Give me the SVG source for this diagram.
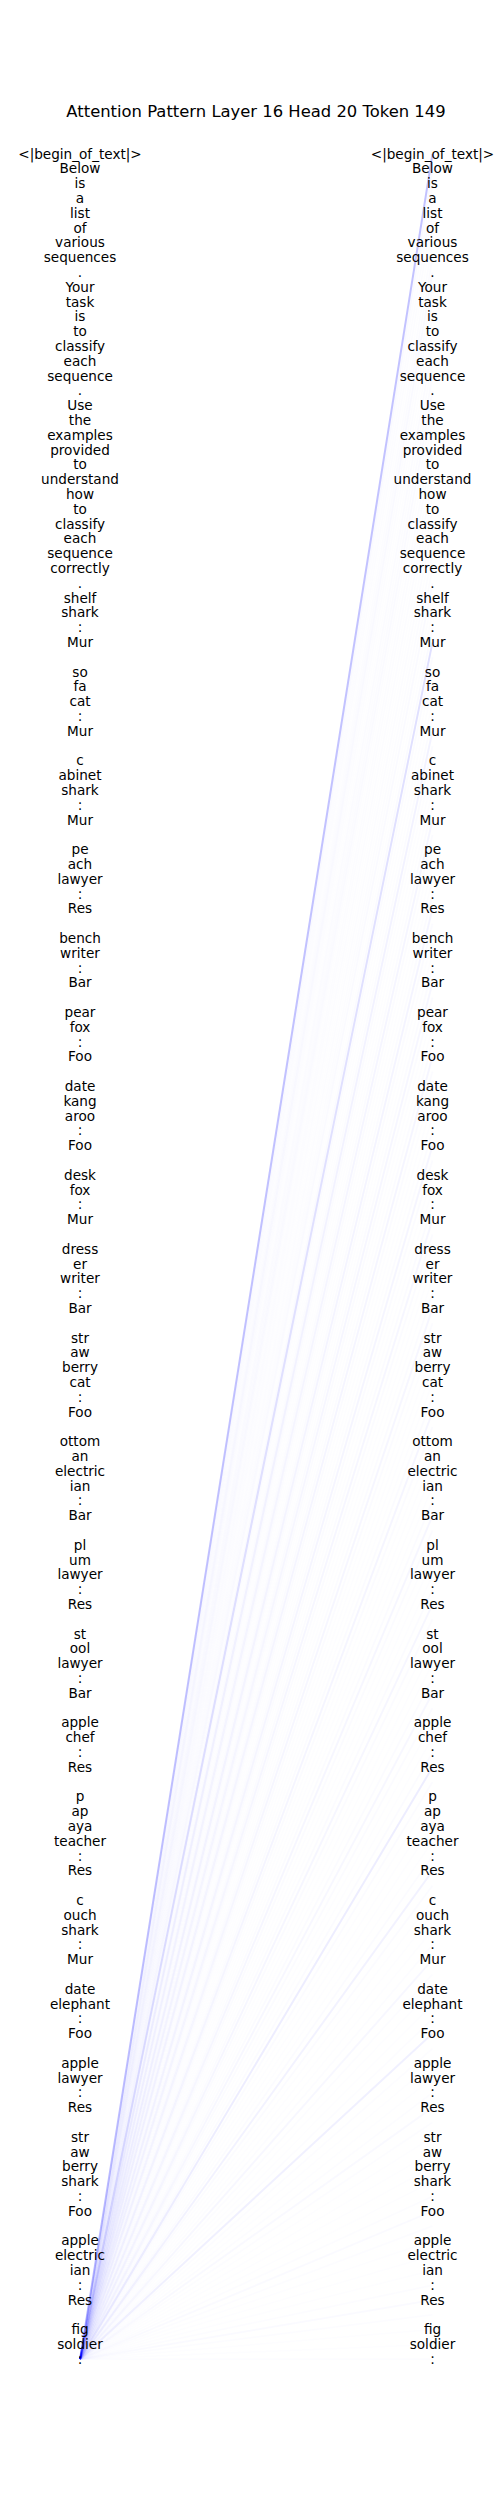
<svg xmlns="http://www.w3.org/2000/svg" width="500" height="2500" viewBox="0 0 500 2500">
<style>
text{font-family:"DejaVu Sans","Liberation Sans",sans-serif;fill:#000;text-anchor:middle}
.t{font-size:13.6px}
.title{font-size:16.4px}
#connectors line{stroke:#0000ff;stroke-width:2;stroke-linecap:butt}
</style>
<rect width="500" height="2500" fill="#fff"/>
<g id="connectors">
<line x1="80" y1="2359.2" x2="432.5" y2="154" stroke-opacity="0.24"/>
<line x1="80" y1="2359.2" x2="432.5" y2="168.8" stroke-opacity="0.025"/>
<line x1="80" y1="2359.2" x2="432.5" y2="183.6" stroke-opacity="0.01"/>
<line x1="80" y1="2359.2" x2="432.5" y2="198.4" stroke-opacity="0.01"/>
<line x1="80" y1="2359.2" x2="432.5" y2="213.2" stroke-opacity="0.01"/>
<line x1="80" y1="2359.2" x2="432.5" y2="228" stroke-opacity="0.008"/>
<line x1="80" y1="2359.2" x2="432.5" y2="242.8" stroke-opacity="0.01"/>
<line x1="80" y1="2359.2" x2="432.5" y2="257.6" stroke-opacity="0.015"/>
<line x1="80" y1="2359.2" x2="432.5" y2="272.4" stroke-opacity="0.025"/>
<line x1="80" y1="2359.2" x2="432.5" y2="287.2" stroke-opacity="0.01"/>
<line x1="80" y1="2359.2" x2="432.5" y2="302" stroke-opacity="0.01"/>
<line x1="80" y1="2359.2" x2="432.5" y2="316.8" stroke-opacity="0.008"/>
<line x1="80" y1="2359.2" x2="432.5" y2="331.6" stroke-opacity="0.008"/>
<line x1="80" y1="2359.2" x2="432.5" y2="346.4" stroke-opacity="0.015"/>
<line x1="80" y1="2359.2" x2="432.5" y2="361.2" stroke-opacity="0.01"/>
<line x1="80" y1="2359.2" x2="432.5" y2="376" stroke-opacity="0.015"/>
<line x1="80" y1="2359.2" x2="432.5" y2="390.8" stroke-opacity="0.02"/>
<line x1="80" y1="2359.2" x2="432.5" y2="405.6" stroke-opacity="0.01"/>
<line x1="80" y1="2359.2" x2="432.5" y2="420.4" stroke-opacity="0.008"/>
<line x1="80" y1="2359.2" x2="432.5" y2="435.2" stroke-opacity="0.01"/>
<line x1="80" y1="2359.2" x2="432.5" y2="450" stroke-opacity="0.01"/>
<line x1="80" y1="2359.2" x2="432.5" y2="464.8" stroke-opacity="0.008"/>
<line x1="80" y1="2359.2" x2="432.5" y2="479.6" stroke-opacity="0.01"/>
<line x1="80" y1="2359.2" x2="432.5" y2="494.4" stroke-opacity="0.008"/>
<line x1="80" y1="2359.2" x2="432.5" y2="509.2" stroke-opacity="0.008"/>
<line x1="80" y1="2359.2" x2="432.5" y2="524" stroke-opacity="0.01"/>
<line x1="80" y1="2359.2" x2="432.5" y2="538.8" stroke-opacity="0.008"/>
<line x1="80" y1="2359.2" x2="432.5" y2="553.6" stroke-opacity="0.01"/>
<line x1="80" y1="2359.2" x2="432.5" y2="568.4" stroke-opacity="0.01"/>
<line x1="80" y1="2359.2" x2="432.5" y2="583.2" stroke-opacity="0.02"/>
<line x1="80" y1="2359.2" x2="432.5" y2="598" stroke-opacity="0.006"/>
<line x1="80" y1="2359.2" x2="432.5" y2="612.8" stroke-opacity="0.006"/>
<line x1="80" y1="2359.2" x2="432.5" y2="627.6" stroke-opacity="0.02"/>
<line x1="80" y1="2359.2" x2="432.5" y2="642.4" stroke-opacity="0.12"/>
<line x1="80" y1="2359.2" x2="432.5" y2="657.2" stroke-opacity="0.015"/>
<line x1="80" y1="2359.2" x2="432.5" y2="672" stroke-opacity="0.006"/>
<line x1="80" y1="2359.2" x2="432.5" y2="686.8" stroke-opacity="0.006"/>
<line x1="80" y1="2359.2" x2="432.5" y2="701.6" stroke-opacity="0.006"/>
<line x1="80" y1="2359.2" x2="432.5" y2="716.4" stroke-opacity="0.015"/>
<line x1="80" y1="2359.2" x2="432.5" y2="731.2" stroke-opacity="0.05"/>
<line x1="80" y1="2359.2" x2="432.5" y2="746" stroke-opacity="0.015"/>
<line x1="80" y1="2359.2" x2="432.5" y2="760.8" stroke-opacity="0.006"/>
<line x1="80" y1="2359.2" x2="432.5" y2="775.6" stroke-opacity="0.006"/>
<line x1="80" y1="2359.2" x2="432.5" y2="790.4" stroke-opacity="0.006"/>
<line x1="80" y1="2359.2" x2="432.5" y2="805.2" stroke-opacity="0.015"/>
<line x1="80" y1="2359.2" x2="432.5" y2="820" stroke-opacity="0.04"/>
<line x1="80" y1="2359.2" x2="432.5" y2="834.8" stroke-opacity="0.015"/>
<line x1="80" y1="2359.2" x2="432.5" y2="849.6" stroke-opacity="0.006"/>
<line x1="80" y1="2359.2" x2="432.5" y2="864.4" stroke-opacity="0.006"/>
<line x1="80" y1="2359.2" x2="432.5" y2="879.2" stroke-opacity="0.006"/>
<line x1="80" y1="2359.2" x2="432.5" y2="894" stroke-opacity="0.015"/>
<line x1="80" y1="2359.2" x2="432.5" y2="908.8" stroke-opacity="0.045"/>
<line x1="80" y1="2359.2" x2="432.5" y2="923.6" stroke-opacity="0.015"/>
<line x1="80" y1="2359.2" x2="432.5" y2="938.4" stroke-opacity="0.006"/>
<line x1="80" y1="2359.2" x2="432.5" y2="953.2" stroke-opacity="0.006"/>
<line x1="80" y1="2359.2" x2="432.5" y2="968" stroke-opacity="0.015"/>
<line x1="80" y1="2359.2" x2="432.5" y2="982.8" stroke-opacity="0.035"/>
<line x1="80" y1="2359.2" x2="432.5" y2="997.6" stroke-opacity="0.015"/>
<line x1="80" y1="2359.2" x2="432.5" y2="1012.4" stroke-opacity="0.006"/>
<line x1="80" y1="2359.2" x2="432.5" y2="1027.2" stroke-opacity="0.006"/>
<line x1="80" y1="2359.2" x2="432.5" y2="1042" stroke-opacity="0.015"/>
<line x1="80" y1="2359.2" x2="432.5" y2="1056.8" stroke-opacity="0.04"/>
<line x1="80" y1="2359.2" x2="432.5" y2="1071.6" stroke-opacity="0.015"/>
<line x1="80" y1="2359.2" x2="432.5" y2="1086.4" stroke-opacity="0.006"/>
<line x1="80" y1="2359.2" x2="432.5" y2="1101.2" stroke-opacity="0.006"/>
<line x1="80" y1="2359.2" x2="432.5" y2="1116" stroke-opacity="0.006"/>
<line x1="80" y1="2359.2" x2="432.5" y2="1130.8" stroke-opacity="0.015"/>
<line x1="80" y1="2359.2" x2="432.5" y2="1145.6" stroke-opacity="0.04"/>
<line x1="80" y1="2359.2" x2="432.5" y2="1160.4" stroke-opacity="0.015"/>
<line x1="80" y1="2359.2" x2="432.5" y2="1175.2" stroke-opacity="0.006"/>
<line x1="80" y1="2359.2" x2="432.5" y2="1190" stroke-opacity="0.006"/>
<line x1="80" y1="2359.2" x2="432.5" y2="1204.8" stroke-opacity="0.015"/>
<line x1="80" y1="2359.2" x2="432.5" y2="1219.6" stroke-opacity="0.035"/>
<line x1="80" y1="2359.2" x2="432.5" y2="1234.4" stroke-opacity="0.015"/>
<line x1="80" y1="2359.2" x2="432.5" y2="1249.2" stroke-opacity="0.006"/>
<line x1="80" y1="2359.2" x2="432.5" y2="1264" stroke-opacity="0.006"/>
<line x1="80" y1="2359.2" x2="432.5" y2="1278.8" stroke-opacity="0.006"/>
<line x1="80" y1="2359.2" x2="432.5" y2="1293.6" stroke-opacity="0.015"/>
<line x1="80" y1="2359.2" x2="432.5" y2="1308.4" stroke-opacity="0.035"/>
<line x1="80" y1="2359.2" x2="432.5" y2="1323.2" stroke-opacity="0.015"/>
<line x1="80" y1="2359.2" x2="432.5" y2="1338" stroke-opacity="0.006"/>
<line x1="80" y1="2359.2" x2="432.5" y2="1352.8" stroke-opacity="0.006"/>
<line x1="80" y1="2359.2" x2="432.5" y2="1367.6" stroke-opacity="0.006"/>
<line x1="80" y1="2359.2" x2="432.5" y2="1382.4" stroke-opacity="0.006"/>
<line x1="80" y1="2359.2" x2="432.5" y2="1397.2" stroke-opacity="0.015"/>
<line x1="80" y1="2359.2" x2="432.5" y2="1412" stroke-opacity="0.04"/>
<line x1="80" y1="2359.2" x2="432.5" y2="1426.8" stroke-opacity="0.015"/>
<line x1="80" y1="2359.2" x2="432.5" y2="1441.6" stroke-opacity="0.006"/>
<line x1="80" y1="2359.2" x2="432.5" y2="1456.4" stroke-opacity="0.006"/>
<line x1="80" y1="2359.2" x2="432.5" y2="1471.2" stroke-opacity="0.006"/>
<line x1="80" y1="2359.2" x2="432.5" y2="1486" stroke-opacity="0.006"/>
<line x1="80" y1="2359.2" x2="432.5" y2="1500.8" stroke-opacity="0.015"/>
<line x1="80" y1="2359.2" x2="432.5" y2="1515.6" stroke-opacity="0.035"/>
<line x1="80" y1="2359.2" x2="432.5" y2="1530.4" stroke-opacity="0.015"/>
<line x1="80" y1="2359.2" x2="432.5" y2="1545.2" stroke-opacity="0.006"/>
<line x1="80" y1="2359.2" x2="432.5" y2="1560" stroke-opacity="0.006"/>
<line x1="80" y1="2359.2" x2="432.5" y2="1574.8" stroke-opacity="0.006"/>
<line x1="80" y1="2359.2" x2="432.5" y2="1589.6" stroke-opacity="0.015"/>
<line x1="80" y1="2359.2" x2="432.5" y2="1604.4" stroke-opacity="0.035"/>
<line x1="80" y1="2359.2" x2="432.5" y2="1619.2" stroke-opacity="0.015"/>
<line x1="80" y1="2359.2" x2="432.5" y2="1634" stroke-opacity="0.006"/>
<line x1="80" y1="2359.2" x2="432.5" y2="1648.8" stroke-opacity="0.006"/>
<line x1="80" y1="2359.2" x2="432.5" y2="1663.6" stroke-opacity="0.006"/>
<line x1="80" y1="2359.2" x2="432.5" y2="1678.4" stroke-opacity="0.015"/>
<line x1="80" y1="2359.2" x2="432.5" y2="1693.2" stroke-opacity="0.03"/>
<line x1="80" y1="2359.2" x2="432.5" y2="1708" stroke-opacity="0.015"/>
<line x1="80" y1="2359.2" x2="432.5" y2="1722.8" stroke-opacity="0.006"/>
<line x1="80" y1="2359.2" x2="432.5" y2="1737.6" stroke-opacity="0.006"/>
<line x1="80" y1="2359.2" x2="432.5" y2="1752.4" stroke-opacity="0.015"/>
<line x1="80" y1="2359.2" x2="432.5" y2="1767.2" stroke-opacity="0.07"/>
<line x1="80" y1="2359.2" x2="432.5" y2="1782" stroke-opacity="0.015"/>
<line x1="80" y1="2359.2" x2="432.5" y2="1796.8" stroke-opacity="0.006"/>
<line x1="80" y1="2359.2" x2="432.5" y2="1811.6" stroke-opacity="0.006"/>
<line x1="80" y1="2359.2" x2="432.5" y2="1826.4" stroke-opacity="0.006"/>
<line x1="80" y1="2359.2" x2="432.5" y2="1841.2" stroke-opacity="0.006"/>
<line x1="80" y1="2359.2" x2="432.5" y2="1856" stroke-opacity="0.015"/>
<line x1="80" y1="2359.2" x2="432.5" y2="1870.8" stroke-opacity="0.05"/>
<line x1="80" y1="2359.2" x2="432.5" y2="1885.6" stroke-opacity="0.015"/>
<line x1="80" y1="2359.2" x2="432.5" y2="1900.4" stroke-opacity="0.006"/>
<line x1="80" y1="2359.2" x2="432.5" y2="1915.2" stroke-opacity="0.006"/>
<line x1="80" y1="2359.2" x2="432.5" y2="1930" stroke-opacity="0.006"/>
<line x1="80" y1="2359.2" x2="432.5" y2="1944.8" stroke-opacity="0.012"/>
<line x1="80" y1="2359.2" x2="432.5" y2="1959.6" stroke-opacity="0.03"/>
<line x1="80" y1="2359.2" x2="432.5" y2="1974.4" stroke-opacity="0.012"/>
<line x1="80" y1="2359.2" x2="432.5" y2="1989.2" stroke-opacity="0.006"/>
<line x1="80" y1="2359.2" x2="432.5" y2="2004" stroke-opacity="0.006"/>
<line x1="80" y1="2359.2" x2="432.5" y2="2018.8" stroke-opacity="0.012"/>
<line x1="80" y1="2359.2" x2="432.5" y2="2033.6" stroke-opacity="0.06"/>
<line x1="80" y1="2359.2" x2="432.5" y2="2048.4" stroke-opacity="0.012"/>
<line x1="80" y1="2359.2" x2="432.5" y2="2063.2" stroke-opacity="0.006"/>
<line x1="80" y1="2359.2" x2="432.5" y2="2078" stroke-opacity="0.006"/>
<line x1="80" y1="2359.2" x2="432.5" y2="2092.8" stroke-opacity="0.012"/>
<line x1="80" y1="2359.2" x2="432.5" y2="2107.6" stroke-opacity="0.025"/>
<line x1="80" y1="2359.2" x2="432.5" y2="2122.4" stroke-opacity="0.012"/>
<line x1="80" y1="2359.2" x2="432.5" y2="2137.2" stroke-opacity="0.006"/>
<line x1="80" y1="2359.2" x2="432.5" y2="2152" stroke-opacity="0.006"/>
<line x1="80" y1="2359.2" x2="432.5" y2="2166.8" stroke-opacity="0.006"/>
<line x1="80" y1="2359.2" x2="432.5" y2="2181.6" stroke-opacity="0.006"/>
<line x1="80" y1="2359.2" x2="432.5" y2="2196.4" stroke-opacity="0.012"/>
<line x1="80" y1="2359.2" x2="432.5" y2="2211.2" stroke-opacity="0.02"/>
<line x1="80" y1="2359.2" x2="432.5" y2="2226" stroke-opacity="0.012"/>
<line x1="80" y1="2359.2" x2="432.5" y2="2240.8" stroke-opacity="0.006"/>
<line x1="80" y1="2359.2" x2="432.5" y2="2255.6" stroke-opacity="0.006"/>
<line x1="80" y1="2359.2" x2="432.5" y2="2270.4" stroke-opacity="0.006"/>
<line x1="80" y1="2359.2" x2="432.5" y2="2285.2" stroke-opacity="0.012"/>
<line x1="80" y1="2359.2" x2="432.5" y2="2300" stroke-opacity="0.02"/>
<line x1="80" y1="2359.2" x2="432.5" y2="2314.8" stroke-opacity="0.012"/>
<line x1="80" y1="2359.2" x2="432.5" y2="2329.6" stroke-opacity="0.008"/>
<line x1="80" y1="2359.2" x2="432.5" y2="2344.4" stroke-opacity="0.008"/>
<line x1="80" y1="2359.2" x2="432.5" y2="2359.2" stroke-opacity="0.01"/>
</g>
<g id="title"><text class="title" x="256" y="117">Attention Pattern Layer 16 Head 20 Token 149</text></g>
<g id="left-tokens">
<g id="L0"><text class="t" x="80" y="158.5">&lt;|begin_of_text|&gt;</text></g>
<g id="L1"><text class="t" x="80" y="173.3">Below</text></g>
<g id="L2"><text class="t" x="80" y="188.1">is</text></g>
<g id="L3"><text class="t" x="80" y="202.9">a</text></g>
<g id="L4"><text class="t" x="80" y="217.7">list</text></g>
<g id="L5"><text class="t" x="80" y="232.5">of</text></g>
<g id="L6"><text class="t" x="80" y="247.3">various</text></g>
<g id="L7"><text class="t" x="80" y="262.1">sequences</text></g>
<g id="L8"><text class="t" x="80" y="276.9">.</text></g>
<g id="L9"><text class="t" x="80" y="291.7">Your</text></g>
<g id="L10"><text class="t" x="80" y="306.5">task</text></g>
<g id="L11"><text class="t" x="80" y="321.3">is</text></g>
<g id="L12"><text class="t" x="80" y="336.1">to</text></g>
<g id="L13"><text class="t" x="80" y="350.9">classify</text></g>
<g id="L14"><text class="t" x="80" y="365.7">each</text></g>
<g id="L15"><text class="t" x="80" y="380.5">sequence</text></g>
<g id="L16"><text class="t" x="80" y="395.3">.</text></g>
<g id="L17"><text class="t" x="80" y="410.1">Use</text></g>
<g id="L18"><text class="t" x="80" y="424.9">the</text></g>
<g id="L19"><text class="t" x="80" y="439.7">examples</text></g>
<g id="L20"><text class="t" x="80" y="454.5">provided</text></g>
<g id="L21"><text class="t" x="80" y="469.3">to</text></g>
<g id="L22"><text class="t" x="80" y="484.1">understand</text></g>
<g id="L23"><text class="t" x="80" y="498.9">how</text></g>
<g id="L24"><text class="t" x="80" y="513.7">to</text></g>
<g id="L25"><text class="t" x="80" y="528.5">classify</text></g>
<g id="L26"><text class="t" x="80" y="543.3">each</text></g>
<g id="L27"><text class="t" x="80" y="558.1">sequence</text></g>
<g id="L28"><text class="t" x="80" y="572.9">correctly</text></g>
<g id="L29"><text class="t" x="80" y="587.7">.</text></g>
<g id="L30"><text class="t" x="80" y="602.5">shelf</text></g>
<g id="L31"><text class="t" x="80" y="617.3">shark</text></g>
<g id="L32"><text class="t" x="80" y="632.1">:</text></g>
<g id="L33"><text class="t" x="80" y="646.9">Mur</text></g>
<g id="L35"><text class="t" x="80" y="676.5">so</text></g>
<g id="L36"><text class="t" x="80" y="691.3">fa</text></g>
<g id="L37"><text class="t" x="80" y="706.1">cat</text></g>
<g id="L38"><text class="t" x="80" y="720.9">:</text></g>
<g id="L39"><text class="t" x="80" y="735.7">Mur</text></g>
<g id="L41"><text class="t" x="80" y="765.3">c</text></g>
<g id="L42"><text class="t" x="80" y="780.1">abinet</text></g>
<g id="L43"><text class="t" x="80" y="794.9">shark</text></g>
<g id="L44"><text class="t" x="80" y="809.7">:</text></g>
<g id="L45"><text class="t" x="80" y="824.5">Mur</text></g>
<g id="L47"><text class="t" x="80" y="854.1">pe</text></g>
<g id="L48"><text class="t" x="80" y="868.9">ach</text></g>
<g id="L49"><text class="t" x="80" y="883.7">lawyer</text></g>
<g id="L50"><text class="t" x="80" y="898.5">:</text></g>
<g id="L51"><text class="t" x="80" y="913.3">Res</text></g>
<g id="L53"><text class="t" x="80" y="942.9">bench</text></g>
<g id="L54"><text class="t" x="80" y="957.7">writer</text></g>
<g id="L55"><text class="t" x="80" y="972.5">:</text></g>
<g id="L56"><text class="t" x="80" y="987.3">Bar</text></g>
<g id="L58"><text class="t" x="80" y="1016.9">pear</text></g>
<g id="L59"><text class="t" x="80" y="1031.7">fox</text></g>
<g id="L60"><text class="t" x="80" y="1046.5">:</text></g>
<g id="L61"><text class="t" x="80" y="1061.3">Foo</text></g>
<g id="L63"><text class="t" x="80" y="1090.9">date</text></g>
<g id="L64"><text class="t" x="80" y="1105.7">kang</text></g>
<g id="L65"><text class="t" x="80" y="1120.5">aroo</text></g>
<g id="L66"><text class="t" x="80" y="1135.3">:</text></g>
<g id="L67"><text class="t" x="80" y="1150.1">Foo</text></g>
<g id="L69"><text class="t" x="80" y="1179.7">desk</text></g>
<g id="L70"><text class="t" x="80" y="1194.5">fox</text></g>
<g id="L71"><text class="t" x="80" y="1209.3">:</text></g>
<g id="L72"><text class="t" x="80" y="1224.1">Mur</text></g>
<g id="L74"><text class="t" x="80" y="1253.7">dress</text></g>
<g id="L75"><text class="t" x="80" y="1268.5">er</text></g>
<g id="L76"><text class="t" x="80" y="1283.3">writer</text></g>
<g id="L77"><text class="t" x="80" y="1298.1">:</text></g>
<g id="L78"><text class="t" x="80" y="1312.9">Bar</text></g>
<g id="L80"><text class="t" x="80" y="1342.5">str</text></g>
<g id="L81"><text class="t" x="80" y="1357.3">aw</text></g>
<g id="L82"><text class="t" x="80" y="1372.1">berry</text></g>
<g id="L83"><text class="t" x="80" y="1386.9">cat</text></g>
<g id="L84"><text class="t" x="80" y="1401.7">:</text></g>
<g id="L85"><text class="t" x="80" y="1416.5">Foo</text></g>
<g id="L87"><text class="t" x="80" y="1446.1">ottom</text></g>
<g id="L88"><text class="t" x="80" y="1460.9">an</text></g>
<g id="L89"><text class="t" x="80" y="1475.7">electric</text></g>
<g id="L90"><text class="t" x="80" y="1490.5">ian</text></g>
<g id="L91"><text class="t" x="80" y="1505.3">:</text></g>
<g id="L92"><text class="t" x="80" y="1520.1">Bar</text></g>
<g id="L94"><text class="t" x="80" y="1549.7">pl</text></g>
<g id="L95"><text class="t" x="80" y="1564.5">um</text></g>
<g id="L96"><text class="t" x="80" y="1579.3">lawyer</text></g>
<g id="L97"><text class="t" x="80" y="1594.1">:</text></g>
<g id="L98"><text class="t" x="80" y="1608.9">Res</text></g>
<g id="L100"><text class="t" x="80" y="1638.5">st</text></g>
<g id="L101"><text class="t" x="80" y="1653.3">ool</text></g>
<g id="L102"><text class="t" x="80" y="1668.1">lawyer</text></g>
<g id="L103"><text class="t" x="80" y="1682.9">:</text></g>
<g id="L104"><text class="t" x="80" y="1697.7">Bar</text></g>
<g id="L106"><text class="t" x="80" y="1727.3">apple</text></g>
<g id="L107"><text class="t" x="80" y="1742.1">chef</text></g>
<g id="L108"><text class="t" x="80" y="1756.9">:</text></g>
<g id="L109"><text class="t" x="80" y="1771.7">Res</text></g>
<g id="L111"><text class="t" x="80" y="1801.3">p</text></g>
<g id="L112"><text class="t" x="80" y="1816.1">ap</text></g>
<g id="L113"><text class="t" x="80" y="1830.9">aya</text></g>
<g id="L114"><text class="t" x="80" y="1845.7">teacher</text></g>
<g id="L115"><text class="t" x="80" y="1860.5">:</text></g>
<g id="L116"><text class="t" x="80" y="1875.3">Res</text></g>
<g id="L118"><text class="t" x="80" y="1904.9">c</text></g>
<g id="L119"><text class="t" x="80" y="1919.7">ouch</text></g>
<g id="L120"><text class="t" x="80" y="1934.5">shark</text></g>
<g id="L121"><text class="t" x="80" y="1949.3">:</text></g>
<g id="L122"><text class="t" x="80" y="1964.1">Mur</text></g>
<g id="L124"><text class="t" x="80" y="1993.7">date</text></g>
<g id="L125"><text class="t" x="80" y="2008.5">elephant</text></g>
<g id="L126"><text class="t" x="80" y="2023.3">:</text></g>
<g id="L127"><text class="t" x="80" y="2038.1">Foo</text></g>
<g id="L129"><text class="t" x="80" y="2067.7">apple</text></g>
<g id="L130"><text class="t" x="80" y="2082.5">lawyer</text></g>
<g id="L131"><text class="t" x="80" y="2097.3">:</text></g>
<g id="L132"><text class="t" x="80" y="2112.1">Res</text></g>
<g id="L134"><text class="t" x="80" y="2141.7">str</text></g>
<g id="L135"><text class="t" x="80" y="2156.5">aw</text></g>
<g id="L136"><text class="t" x="80" y="2171.3">berry</text></g>
<g id="L137"><text class="t" x="80" y="2186.1">shark</text></g>
<g id="L138"><text class="t" x="80" y="2200.9">:</text></g>
<g id="L139"><text class="t" x="80" y="2215.7">Foo</text></g>
<g id="L141"><text class="t" x="80" y="2245.3">apple</text></g>
<g id="L142"><text class="t" x="80" y="2260.1">electric</text></g>
<g id="L143"><text class="t" x="80" y="2274.9">ian</text></g>
<g id="L144"><text class="t" x="80" y="2289.7">:</text></g>
<g id="L145"><text class="t" x="80" y="2304.5">Res</text></g>
<g id="L147"><text class="t" x="80" y="2334.1">fig</text></g>
<g id="L148"><text class="t" x="80" y="2348.9">soldier</text></g>
<g id="L149"><text class="t" x="80" y="2363.7">:</text></g>
</g>
<g id="right-tokens">
<g id="R0"><text class="t" x="432.5" y="158.5">&lt;|begin_of_text|&gt;</text></g>
<g id="R1"><text class="t" x="432.5" y="173.3">Below</text></g>
<g id="R2"><text class="t" x="432.5" y="188.1">is</text></g>
<g id="R3"><text class="t" x="432.5" y="202.9">a</text></g>
<g id="R4"><text class="t" x="432.5" y="217.7">list</text></g>
<g id="R5"><text class="t" x="432.5" y="232.5">of</text></g>
<g id="R6"><text class="t" x="432.5" y="247.3">various</text></g>
<g id="R7"><text class="t" x="432.5" y="262.1">sequences</text></g>
<g id="R8"><text class="t" x="432.5" y="276.9">.</text></g>
<g id="R9"><text class="t" x="432.5" y="291.7">Your</text></g>
<g id="R10"><text class="t" x="432.5" y="306.5">task</text></g>
<g id="R11"><text class="t" x="432.5" y="321.3">is</text></g>
<g id="R12"><text class="t" x="432.5" y="336.1">to</text></g>
<g id="R13"><text class="t" x="432.5" y="350.9">classify</text></g>
<g id="R14"><text class="t" x="432.5" y="365.7">each</text></g>
<g id="R15"><text class="t" x="432.5" y="380.5">sequence</text></g>
<g id="R16"><text class="t" x="432.5" y="395.3">.</text></g>
<g id="R17"><text class="t" x="432.5" y="410.1">Use</text></g>
<g id="R18"><text class="t" x="432.5" y="424.9">the</text></g>
<g id="R19"><text class="t" x="432.5" y="439.7">examples</text></g>
<g id="R20"><text class="t" x="432.5" y="454.5">provided</text></g>
<g id="R21"><text class="t" x="432.5" y="469.3">to</text></g>
<g id="R22"><text class="t" x="432.5" y="484.1">understand</text></g>
<g id="R23"><text class="t" x="432.5" y="498.9">how</text></g>
<g id="R24"><text class="t" x="432.5" y="513.7">to</text></g>
<g id="R25"><text class="t" x="432.5" y="528.5">classify</text></g>
<g id="R26"><text class="t" x="432.5" y="543.3">each</text></g>
<g id="R27"><text class="t" x="432.5" y="558.1">sequence</text></g>
<g id="R28"><text class="t" x="432.5" y="572.9">correctly</text></g>
<g id="R29"><text class="t" x="432.5" y="587.7">.</text></g>
<g id="R30"><text class="t" x="432.5" y="602.5">shelf</text></g>
<g id="R31"><text class="t" x="432.5" y="617.3">shark</text></g>
<g id="R32"><text class="t" x="432.5" y="632.1">:</text></g>
<g id="R33"><text class="t" x="432.5" y="646.9">Mur</text></g>
<g id="R35"><text class="t" x="432.5" y="676.5">so</text></g>
<g id="R36"><text class="t" x="432.5" y="691.3">fa</text></g>
<g id="R37"><text class="t" x="432.5" y="706.1">cat</text></g>
<g id="R38"><text class="t" x="432.5" y="720.9">:</text></g>
<g id="R39"><text class="t" x="432.5" y="735.7">Mur</text></g>
<g id="R41"><text class="t" x="432.5" y="765.3">c</text></g>
<g id="R42"><text class="t" x="432.5" y="780.1">abinet</text></g>
<g id="R43"><text class="t" x="432.5" y="794.9">shark</text></g>
<g id="R44"><text class="t" x="432.5" y="809.7">:</text></g>
<g id="R45"><text class="t" x="432.5" y="824.5">Mur</text></g>
<g id="R47"><text class="t" x="432.5" y="854.1">pe</text></g>
<g id="R48"><text class="t" x="432.5" y="868.9">ach</text></g>
<g id="R49"><text class="t" x="432.5" y="883.7">lawyer</text></g>
<g id="R50"><text class="t" x="432.5" y="898.5">:</text></g>
<g id="R51"><text class="t" x="432.5" y="913.3">Res</text></g>
<g id="R53"><text class="t" x="432.5" y="942.9">bench</text></g>
<g id="R54"><text class="t" x="432.5" y="957.7">writer</text></g>
<g id="R55"><text class="t" x="432.5" y="972.5">:</text></g>
<g id="R56"><text class="t" x="432.5" y="987.3">Bar</text></g>
<g id="R58"><text class="t" x="432.5" y="1016.9">pear</text></g>
<g id="R59"><text class="t" x="432.5" y="1031.7">fox</text></g>
<g id="R60"><text class="t" x="432.5" y="1046.5">:</text></g>
<g id="R61"><text class="t" x="432.5" y="1061.3">Foo</text></g>
<g id="R63"><text class="t" x="432.5" y="1090.9">date</text></g>
<g id="R64"><text class="t" x="432.5" y="1105.7">kang</text></g>
<g id="R65"><text class="t" x="432.5" y="1120.5">aroo</text></g>
<g id="R66"><text class="t" x="432.5" y="1135.3">:</text></g>
<g id="R67"><text class="t" x="432.5" y="1150.1">Foo</text></g>
<g id="R69"><text class="t" x="432.5" y="1179.7">desk</text></g>
<g id="R70"><text class="t" x="432.5" y="1194.5">fox</text></g>
<g id="R71"><text class="t" x="432.5" y="1209.3">:</text></g>
<g id="R72"><text class="t" x="432.5" y="1224.1">Mur</text></g>
<g id="R74"><text class="t" x="432.5" y="1253.7">dress</text></g>
<g id="R75"><text class="t" x="432.5" y="1268.5">er</text></g>
<g id="R76"><text class="t" x="432.5" y="1283.3">writer</text></g>
<g id="R77"><text class="t" x="432.5" y="1298.1">:</text></g>
<g id="R78"><text class="t" x="432.5" y="1312.9">Bar</text></g>
<g id="R80"><text class="t" x="432.5" y="1342.5">str</text></g>
<g id="R81"><text class="t" x="432.5" y="1357.3">aw</text></g>
<g id="R82"><text class="t" x="432.5" y="1372.1">berry</text></g>
<g id="R83"><text class="t" x="432.5" y="1386.9">cat</text></g>
<g id="R84"><text class="t" x="432.5" y="1401.7">:</text></g>
<g id="R85"><text class="t" x="432.5" y="1416.5">Foo</text></g>
<g id="R87"><text class="t" x="432.5" y="1446.1">ottom</text></g>
<g id="R88"><text class="t" x="432.5" y="1460.9">an</text></g>
<g id="R89"><text class="t" x="432.5" y="1475.7">electric</text></g>
<g id="R90"><text class="t" x="432.5" y="1490.5">ian</text></g>
<g id="R91"><text class="t" x="432.5" y="1505.3">:</text></g>
<g id="R92"><text class="t" x="432.5" y="1520.1">Bar</text></g>
<g id="R94"><text class="t" x="432.5" y="1549.7">pl</text></g>
<g id="R95"><text class="t" x="432.5" y="1564.5">um</text></g>
<g id="R96"><text class="t" x="432.5" y="1579.3">lawyer</text></g>
<g id="R97"><text class="t" x="432.5" y="1594.1">:</text></g>
<g id="R98"><text class="t" x="432.5" y="1608.9">Res</text></g>
<g id="R100"><text class="t" x="432.5" y="1638.5">st</text></g>
<g id="R101"><text class="t" x="432.5" y="1653.3">ool</text></g>
<g id="R102"><text class="t" x="432.5" y="1668.1">lawyer</text></g>
<g id="R103"><text class="t" x="432.5" y="1682.9">:</text></g>
<g id="R104"><text class="t" x="432.5" y="1697.7">Bar</text></g>
<g id="R106"><text class="t" x="432.5" y="1727.3">apple</text></g>
<g id="R107"><text class="t" x="432.5" y="1742.1">chef</text></g>
<g id="R108"><text class="t" x="432.5" y="1756.9">:</text></g>
<g id="R109"><text class="t" x="432.5" y="1771.7">Res</text></g>
<g id="R111"><text class="t" x="432.5" y="1801.3">p</text></g>
<g id="R112"><text class="t" x="432.5" y="1816.1">ap</text></g>
<g id="R113"><text class="t" x="432.5" y="1830.9">aya</text></g>
<g id="R114"><text class="t" x="432.5" y="1845.7">teacher</text></g>
<g id="R115"><text class="t" x="432.5" y="1860.5">:</text></g>
<g id="R116"><text class="t" x="432.5" y="1875.3">Res</text></g>
<g id="R118"><text class="t" x="432.5" y="1904.9">c</text></g>
<g id="R119"><text class="t" x="432.5" y="1919.7">ouch</text></g>
<g id="R120"><text class="t" x="432.5" y="1934.5">shark</text></g>
<g id="R121"><text class="t" x="432.5" y="1949.3">:</text></g>
<g id="R122"><text class="t" x="432.5" y="1964.1">Mur</text></g>
<g id="R124"><text class="t" x="432.5" y="1993.7">date</text></g>
<g id="R125"><text class="t" x="432.5" y="2008.5">elephant</text></g>
<g id="R126"><text class="t" x="432.5" y="2023.3">:</text></g>
<g id="R127"><text class="t" x="432.5" y="2038.1">Foo</text></g>
<g id="R129"><text class="t" x="432.5" y="2067.7">apple</text></g>
<g id="R130"><text class="t" x="432.5" y="2082.5">lawyer</text></g>
<g id="R131"><text class="t" x="432.5" y="2097.3">:</text></g>
<g id="R132"><text class="t" x="432.5" y="2112.1">Res</text></g>
<g id="R134"><text class="t" x="432.5" y="2141.7">str</text></g>
<g id="R135"><text class="t" x="432.5" y="2156.5">aw</text></g>
<g id="R136"><text class="t" x="432.5" y="2171.3">berry</text></g>
<g id="R137"><text class="t" x="432.5" y="2186.1">shark</text></g>
<g id="R138"><text class="t" x="432.5" y="2200.9">:</text></g>
<g id="R139"><text class="t" x="432.5" y="2215.7">Foo</text></g>
<g id="R141"><text class="t" x="432.5" y="2245.3">apple</text></g>
<g id="R142"><text class="t" x="432.5" y="2260.1">electric</text></g>
<g id="R143"><text class="t" x="432.5" y="2274.9">ian</text></g>
<g id="R144"><text class="t" x="432.5" y="2289.7">:</text></g>
<g id="R145"><text class="t" x="432.5" y="2304.5">Res</text></g>
<g id="R147"><text class="t" x="432.5" y="2334.1">fig</text></g>
<g id="R148"><text class="t" x="432.5" y="2348.9">soldier</text></g>
<g id="R149"><text class="t" x="432.5" y="2363.7">:</text></g>
</g>
</svg>
